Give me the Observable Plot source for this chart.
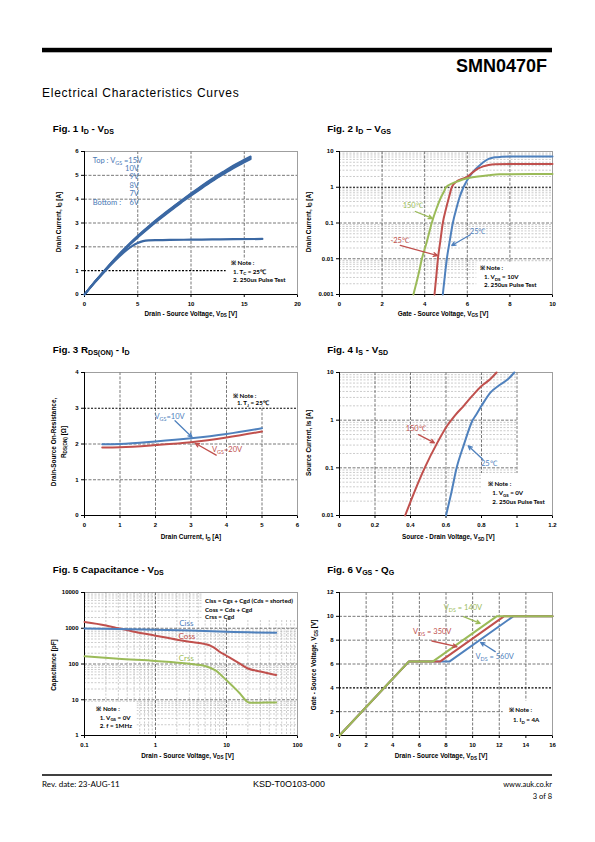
<!DOCTYPE html>
<html><head><meta charset="utf-8">
<script src="https://cdn.jsdelivr.net/npm/d3@7"></script>
<script src="https://cdn.jsdelivr.net/npm/@observablehq/plot@0.6"></script>
<style>
html,body{margin:0;padding:0;background:#fff}
#page{position:relative;width:595px;height:842px;overflow:hidden;background:#fff}
#page svg{position:absolute}
</style></head>
<body><div id="page"></div>
<script>
// ---------------- DATA ----------------
// Fig 1  I_D vs V_DS
const fig1_vds = [0,1,2,3,4,5,6,7,8,9,10,11,12,13,14,15,15.6];
const fig1_id_15V = [0,0.56,1.08,1.58,2.04,2.47,2.86,3.23,3.58,3.92,4.25,4.57,4.87,5.15,5.42,5.66,5.8];
const fig1_id_10V = [0,0.55,1.07,1.56,2.02,2.45,2.84,3.21,3.56,3.9,4.22,4.54,4.84,5.12,5.39,5.63,5.77];
const fig1_id_9V  = [0,0.55,1.06,1.55,2.01,2.43,2.82,3.19,3.54,3.87,4.2,4.51,4.81,5.09,5.36,5.6,5.74];
const fig1_id_8V  = [0,0.54,1.05,1.54,2.0,2.41,2.8,3.16,3.51,3.85,4.17,4.48,4.78,5.06,5.33,5.57,5.71];
const fig1_id_7V  = [0,0.54,1.04,1.53,1.98,2.39,2.77,3.13,3.48,3.82,4.14,4.45,4.75,5.03,5.3,5.54,5.68];
const fig1_vds_6V = [0,1,2,3,4,4.5,5,5.5,6,7,8,10,12,14,16.7];
const fig1_id_6V  = [0,0.52,1.02,1.48,1.88,2.04,2.16,2.24,2.27,2.28,2.29,2.3,2.31,2.32,2.33];
const fig1_xticks = [0,5,10,15,20];
const fig1_yticks = [0,1,2,3,4,5,6];

// Fig 2  I_D vs V_GS
const fig2_vgs_150 = [3.47,3.7,3.87,4.1,4.33,4.55,4.75,4.9,5.0,5.3,5.6,6,6.5,7,7.5,8,9,10];
const fig2_id_150  = [0.001,0.0035,0.01,0.03,0.1,0.25,0.5,0.75,1.0,1.28,1.5,1.78,2.0,2.17,2.3,2.32,2.33,2.33];
const fig2_vgs_red = [4.46,4.55,4.62,4.73,4.85,5.0,5.15,5.27,5.5,5.75,6,6.25,6.5,6.75,7,7.3,8,10];
const fig2_id_red  = [0.001,0.0035,0.01,0.03,0.1,0.25,0.55,1.0,1.45,1.72,1.95,2.6,3.3,3.85,4.2,4.4,4.45,4.45];
const fig2_vgs_blue = [4.85,4.95,5.04,5.17,5.32,5.5,5.65,5.82,6,6.25,6.5,6.75,7,7.3,7.6,8,10];
const fig2_id_blue  = [0.001,0.0035,0.01,0.03,0.1,0.27,0.55,1.0,1.6,2.6,3.7,5.0,6.2,6.9,7.1,7.2,7.2];
const fig2_xticks = [0,2,4,6,8,10];
const fig2_yticks = [0.001,0.01,0.1,1,10];
const fig2_ylabels = ["0.001","0.01","0.1","1","10"];

// Fig 3  R_DS(ON) vs I_D
const fig3_id = [0.5,1,2,3,4,5];
const fig3_r_10V = [1.99,2.0,2.07,2.16,2.28,2.44];
const fig3_r_20V = [1.9,1.91,1.97,2.05,2.18,2.35];
const fig3_xticks = [0,1,2,3,4,5,6];
const fig3_yticks = [0,1,2,3,4];

// Fig 4  I_S vs V_SD
const fig4_vsd_150 = [0.37,0.42,0.48,0.55,0.61,0.65,0.7,0.75,0.8,0.85,0.885];
const fig4_is_150  = [0.01,0.03,0.1,0.33,0.8,1.25,2.0,3.3,5.2,7.3,10];
const fig4_vsd_25  = [0.6,0.63,0.66,0.7,0.75,0.77,0.8,0.85,0.9,0.95,0.985];
const fig4_is_25   = [0.01,0.03,0.1,0.3,1.0,1.3,2.0,3.8,5.4,7.3,10];
const fig4_xticks = [0,0.2,0.4,0.6,0.8,1,1.2];
const fig4_xlabels = ["0","0.2","0.4","0.6","0.8","1","1.2"];
const fig4_yticks = [0.01,0.1,1,10];
const fig4_ylabels = ["0.01","0.1","1","10"];

// Fig 5  Capacitance vs V_DS
const fig5_v_ciss = [0.1,0.3,1,3,10,20,50];
const fig5_ciss   = [980,950,910,860,800,770,745];
const fig5_v_coss = [0.1,0.2,0.3,0.5,1,2,3,5,6,7,8,10,15,20,30,50];
const fig5_coss   = [1500,1200,1000,800,620,480,420,360,320,270,220,170,106,75,62,49];
const fig5_v_crss = [0.1,0.3,1,3,5,7,10,15,21,30,50];
const fig5_crss   = [165,140,122,102,88,66,35,16,8.2,8.3,8.4];
const fig5_xticks = [0.1,1,10,100];
const fig5_xlabels = ["0.1","1","10","100"];
const fig5_yticks = [1,10,100,1000,10000];
const fig5_ylabels = ["1","10","100","1000","10000"];

// Fig 6  V_GS vs Q_G
const fig6_q_140 = [0,5.2,7.0,11.8,16];
const fig6_q_350 = [0,5.2,7.55,12.35,16];
const fig6_q_560 = [0,5.2,8.25,13.05,16];
const fig6_vgs   = [0,6.2,6.2,10,10];
const fig6_xticks = [0,2,4,6,8,10,12,14,16];
const fig6_yticks = [0,2,4,6,8,10,12];

// ---------------- STYLES ----------------
const BLUE = "#4f81bd", RED = "#c0504d", GREEN = "#9bbb59", DBLUE = "#3b68a3";
const gridDark  = {stroke:"#555", strokeWidth:0.8, strokeDasharray:"3,1.5"};
const gridMinor = {stroke:"#aaa", strokeWidth:0.6, strokeDasharray:"2,1.5"};
const gridBlack = {stroke:"#000", strokeWidth:1.1, strokeDasharray:"2,1.5"};
const frameSt = {stroke:"#888", strokeWidth:0.8};
const axisSt = {stroke:"#000", strokeWidth:1};
const SANS = "'Liberation Sans', Arial, sans-serif";
const CAL = "Lato, 'Open Sans', sans-serif";
const NS = "http://www.w3.org/2000/svg";

const page = document.getElementById("page");
const pts = (xs, ys) => xs.map((x, i) => [x, ys[i]]);
const minorLog = (dom) => d3.scaleLog().domain(dom).ticks().filter(v => Math.abs(Math.log10(v) - Math.round(Math.log10(v))) > 1e-9);
const box = (x1, x2, y1, y2) => Plot.rect([0], {x1: () => x1, x2: () => x2, y1: () => y1, y2: () => y2, fill: "white"});
const lbl = (ticks, labels) => d => labels[ticks.findIndex(t => Math.abs(t - d) < 1e-9 * Math.max(1, Math.abs(t)))];
const plain = d => String(d);

// overlay for rich text
const ov = document.createElementNS(NS, "svg");
ov.setAttribute("width", 595); ov.setAttribute("height", 842);
ov.style.left = "0px"; ov.style.top = "0px"; ov.style.zIndex = 5;

function rich(x, y, parts, o = {}) {
  const size = o.size || 7;
  const t = document.createElementNS(NS, "text");
  t.setAttribute("x", x);
  t.setAttribute("y", y + 0.35 * size);
  t.setAttribute("font-size", size);
  t.setAttribute("font-family", o.family || SANS);
  t.setAttribute("font-weight", o.weight || "normal");
  t.setAttribute("fill", o.fill || "#000");
  t.setAttribute("text-anchor", o.anchor || "start");
  if (o.ls) t.setAttribute("letter-spacing", o.ls);
  if (o.rotate) t.setAttribute("transform", `rotate(-90 ${x} ${y})`);
  let shifted = false;
  for (const p of parts) {
    const ts = document.createElementNS(NS, "tspan");
    if (typeof p === "string") {
      ts.textContent = p;
      if (shifted) { ts.setAttribute("dy", -0.25 * size); shifted = false; }
    } else {
      ts.textContent = p.sub;
      ts.setAttribute("font-size", size * 0.72);
      if (!shifted) { ts.setAttribute("dy", 0.25 * size); shifted = true; }
    }
    t.appendChild(ts);
  }
  ov.appendChild(t);
}
function shape(tag, attrs) {
  const e = document.createElementNS(NS, tag);
  for (const k in attrs) e.setAttribute(k, attrs[k]);
  ov.appendChild(e);
}

const COL = [{left:40, ml:44, mr:5}, {left:300, ml:39, mr:10}];
const ROW = [135, 355.7, 576];
const W = 262, H = 191, MT = 16, MB = 32;

function chart(c, r, x, y, marks) {
  const svg = Plot.plot({
    width: W, height: H,
    marginLeft: COL[c].ml, marginRight: COL[c].mr, marginTop: MT, marginBottom: MB,
    style: {fontFamily: SANS, fontSize: "6px", fontWeight: "bold", background: "transparent", color: "#000", overflow: "visible"},
    x: {tickFormat: plain, ...x, label: null, tickSize: 3, tickPadding: 4},
    y: {tickFormat: plain, ...y, label: null, tickSize: 3, tickPadding: 3},
    marks
  });
  svg.style.left = COL[c].left + "px";
  svg.style.top = ROW[r] + "px";
  page.appendChild(svg);
  const mk = (s) => { const sc = s.type === "log" ? d3.scaleLog() : d3.scaleLinear(); return sc.domain(s.domain).range(s.range); };
  const sx = mk(svg.scale("x")), sy = mk(svg.scale("y"));
  return (xv, yv) => [COL[c].left + sx(xv), ROW[r] + sy(yv)];
}
const arrow = (x1, y1, x2, y2, col) => Plot.arrow([0], {x1: () => x1, y1: () => y1, x2: () => x2, y2: () => y2, stroke: col, strokeWidth: 1.3, headLength: 5, headAngle: 50});
const line = (xs, ys, col, w = 2) => Plot.line(pts(xs, ys), {x: d => d[0], y: d => d[1], stroke: col, strokeWidth: w, curve: "monotone-x"});
const note = (p, rows, xv, yv) => rows.forEach((parts, i) => { const [px, py] = p(xv[i], yv[i]); rich(px, py, parts, {size: 6.2, family: CAL, weight: "bold"}); });

// ---------------- FIG 1 ----------------
const p1 = chart(0, 0,
  {domain: [0, 20], ticks: fig1_xticks},
  {domain: [0, 6], ticks: fig1_yticks},
  [
    Plot.ruleX([5, 10, 15], gridDark),
    Plot.ruleY([2, 3, 4, 5], gridDark),
    Plot.ruleY([1], gridBlack),
    box(13.3, 20, 0, 1.45),
    Plot.frame(frameSt),
    Plot.ruleX([0], axisSt), Plot.ruleY([0], axisSt),
    line(fig1_vds_6V, fig1_id_6V, DBLUE, 2.2),
    line(fig1_vds, fig1_id_7V, DBLUE, 1.7),
    line(fig1_vds, fig1_id_8V, DBLUE, 1.7),
    line(fig1_vds, fig1_id_9V, DBLUE, 1.7),
    line(fig1_vds, fig1_id_10V, DBLUE, 1.7),
    line(fig1_vds, fig1_id_15V, DBLUE, 1.7)
  ]);
{
  const o = {size: 7.5, family: CAL, fill: "#4a78b5"};
  let [x, y] = p1(0.82, 5.59); rich(x, y, ["Top : V", {sub: "GS"}, " =15V"], o);
  [["10V", 5.27], ["9V", 4.92], ["8V", 4.57], ["7V", 4.22], ["6V", 3.84]].forEach(([s, v]) => { const [a, b] = p1(5.15, v); rich(a, b, [s], {...o, anchor: "end"}); });
  [x, y] = p1(0.82, 3.84); rich(x, y, ["Bottom :"], o);
  note(p1, [["※ Note :"], ["1. T", {sub: "C"}, " = 25℃"], ["2. 250us Pulse Test"]], [13.8, 14.0, 14.0], [1.30, 0.94, 0.59]);
}

// ---------------- FIG 2 ----------------
const p2 = chart(1, 0,
  {domain: [0, 10], ticks: fig2_xticks},
  {type: "log", domain: [0.001, 10], ticks: fig2_yticks, tickFormat: lbl(fig2_yticks, fig2_ylabels)},
  [
    Plot.ruleY(minorLog([0.001, 10]), gridMinor),
    Plot.ruleX([2, 4, 6, 8], gridDark),
    Plot.ruleY([0.01, 0.1], gridDark),
    Plot.ruleY([1], gridBlack),
    box(6.45, 10, 0.001, 0.008),
    Plot.frame(frameSt),
    Plot.ruleX([0], axisSt), Plot.ruleY([0.001], axisSt),
    line(fig2_vgs_blue, fig2_id_blue, BLUE),
    line(fig2_vgs_red, fig2_id_red, RED),
    line(fig2_vgs_150, fig2_id_150, GREEN),
    arrow(3.56, 0.21, 4.36, 0.134, GREEN),
    arrow(2.85, 0.0235, 4.6, 0.0123, RED),
    arrow(6.14, 0.0468, 5.27, 0.0235, BLUE)
  ]);
{
  let [x, y] = p2(3.46, 0.31); rich(x, y, ["150℃"], {size: 7.5, family: CAL, fill: GREEN, anchor: "middle"});
  [x, y] = p2(2.85, 0.032); rich(x, y, ["-25℃"], {size: 7.5, family: CAL, fill: RED, anchor: "middle"});
  [x, y] = p2(6.51, 0.0578); rich(x, y, ["25℃"], {size: 7.5, family: CAL, fill: BLUE, anchor: "middle"});
  note(p2, [["※ Note :"], ["1. V", {sub: "DS"}, " = 10V"], ["2. 250us Pulse Test"]], [6.61, 6.81, 6.81], [0.00523, 0.00293, 0.00175]);
}

// ---------------- FIG 3 ----------------
const p3 = chart(0, 1,
  {domain: [0, 6], ticks: fig3_xticks},
  {domain: [0, 4], ticks: fig3_yticks},
  [
    Plot.ruleX([1, 2, 3, 4, 5], gridDark),
    Plot.ruleY([1, 2], gridDark),
    Plot.ruleY([3], gridBlack),
    box(4.1, 6, 3.06, 4),
    Plot.frame(frameSt),
    Plot.ruleX([0], axisSt), Plot.ruleY([0], axisSt),
    line(fig3_id, fig3_r_20V, RED),
    line(fig3_id, fig3_r_10V, BLUE),
    arrow(2.55, 2.65, 3.03, 2.19, BLUE),
    arrow(3.71, 1.69, 3.12, 2.02, RED)
  ]);
{
  let [x, y] = p3(2.41, 2.74); rich(x, y, ["V", {sub: "GS"}, "=10V"], {size: 7.5, family: CAL, fill: BLUE, anchor: "middle"});
  [x, y] = p3(4.03, 1.83); rich(x, y, ["V", {sub: "GS"}, "=20V"], {size: 7.5, family: CAL, fill: RED, anchor: "middle"});
  note(p3, [["※ Note :"], ["1. T", {sub: "J"}, " = 25℃"]], [4.2, 4.31], [3.33, 3.12]);
}

// ---------------- FIG 4 ----------------
const p4 = chart(1, 1,
  {domain: [0, 1.2], ticks: fig4_xticks, tickFormat: lbl(fig4_xticks, fig4_xlabels)},
  {type: "log", domain: [0.01, 10], ticks: fig4_yticks, tickFormat: lbl(fig4_yticks, fig4_ylabels)},
  [
    Plot.ruleY(minorLog([0.01, 10]), {...gridMinor, x1: () => 0, x2: () => 1}),
    Plot.ruleX([0.2, 0.4, 0.6, 0.8, 1], gridDark),
    Plot.ruleY([0.1, 1], {...gridDark, x1: () => 0, x2: () => 1}),
    box(0.8, 1.2, 0.01, 0.076),
    Plot.frame(frameSt),
    Plot.ruleX([0], axisSt), Plot.ruleY([0.01], axisSt),
    line(fig4_vsd_150, fig4_is_150, RED),
    line(fig4_vsd_25, fig4_is_25, BLUE),
    arrow(0.445, 0.497, 0.535, 0.335, RED),
    arrow(0.808, 0.149, 0.725, 0.29, BLUE)
  ]);
{
  let [x, y] = p4(0.432, 0.653); rich(x, y, ["150℃"], {size: 7.5, family: CAL, fill: RED, anchor: "middle"});
  [x, y] = p4(0.844, 0.121); rich(x, y, ["25℃"], {size: 7.5, family: CAL, fill: BLUE, anchor: "middle"});
  note(p4, [["※ Note :"], ["1. V", {sub: "GS"}, " = 0V"], ["2. 250us Pulse Test"]], [0.839, 0.864, 0.864], [0.0446, 0.0284, 0.0185]);
}

// ---------------- FIG 5 ----------------
const p5 = chart(0, 2,
  {type: "log", domain: [0.1, 100], ticks: fig5_xticks, tickFormat: lbl(fig5_xticks, fig5_xlabels)},
  {type: "log", domain: [1, 10000], ticks: fig5_yticks, tickFormat: lbl(fig5_yticks, fig5_ylabels)},
  [
    Plot.ruleX(minorLog([0.1, 100]), gridMinor),
    Plot.ruleY(minorLog([1, 10000]), gridMinor),
    Plot.ruleX([1, 10], gridDark),
    Plot.ruleY([10, 100, 1000], gridDark),
    box(4.6, 100, 1700, 10000),
    box(0.1, 0.55, 1, 8.5),
    Plot.frame(frameSt),
    Plot.ruleX([0.1], axisSt), Plot.ruleY([1], axisSt),
    line(fig5_v_crss, fig5_crss, GREEN),
    line(fig5_v_coss, fig5_coss, RED),
    line(fig5_v_ciss, fig5_ciss, BLUE)
  ]);
{
  let [x, y] = p5(2.76, 1365); rich(x, y, ["Ciss"], {size: 8, family: CAL, fill: BLUE, anchor: "middle"});
  [x, y] = p5(2.82, 591); rich(x, y, ["Coss"], {size: 8, family: CAL, fill: RED, anchor: "middle"});
  [x, y] = p5(2.76, 138); rich(x, y, ["Crss"], {size: 8, family: CAL, fill: GREEN, anchor: "middle"});
  note(p5, [["Ciss = Cgs + Cgd (Cds = shorted)"], ["Coss = Cds + Cgd"], ["Crss = Cgd"]], [5.07, 5.07, 5.07], [5495, 3228, 1968]);
  note(p5, [["※ Note :"], ["1. V", {sub: "GS"}, " = 0V"], ["2. f = 1MHz"]], [0.1496, 0.1667, 0.1667], [5.32, 3.04, 1.79]);
}

// ---------------- FIG 6 ----------------
const p6 = chart(1, 2,
  {domain: [0, 16], ticks: fig6_xticks},
  {domain: [0, 12], ticks: fig6_yticks},
  [
    Plot.ruleX([2, 4, 6, 8, 10, 12, 14], gridDark),
    Plot.ruleY([2, 6, 8, 10], gridDark),
    Plot.ruleY([4], gridBlack),
    box(12.3, 16, 0, 2.9),
    Plot.frame(frameSt),
    Plot.ruleX([0], axisSt), Plot.ruleY([0], axisSt),
    Plot.line(pts(fig6_q_560, fig6_vgs), {x: d => d[0], y: d => d[1], stroke: BLUE, strokeWidth: 2}),
    Plot.line(pts(fig6_q_350, fig6_vgs), {x: d => d[0], y: d => d[1], stroke: RED, strokeWidth: 2}),
    Plot.line(pts(fig6_q_140, fig6_vgs), {x: d => d[0], y: d => d[1], stroke: GREEN, strokeWidth: 2}),
    arrow(9.32, 9.97, 10.57, 9.41, GREEN),
    arrow(6.94, 7.93, 8.82, 7.45, RED),
    arrow(11.7, 7.04, 10.6, 7.82, BLUE)
  ]);
{
  let [x, y] = p6(7.87, 10.72); rich(x, y, ["V", {sub: "DS"}, " =  140V"], {size: 7.5, family: CAL, fill: GREEN});
  [x, y] = p6(5.56, 8.66); rich(x, y, ["V", {sub: "DS"}, " =  350V"], {size: 7.5, family: CAL, fill: RED});
  [x, y] = p6(10.25, 6.57); rich(x, y, ["V", {sub: "DS"}, " =  560V"], {size: 7.5, family: CAL, fill: BLUE});
  note(p6, [["※ Note :"], ["1. I", {sub: "D"}, " = 4A"]], [12.75, 13.07], [2.09, 1.26]);
}

// ---------------- TITLES & AXIS LABELS ----------------
const tf = {size: 9.8, weight: "bold"};
rich(52.7, 128.3, ["Fig. 1 I", {sub: "D"}, " - V", {sub: "DS"}], tf);
rich(327.3, 128.3, ["Fig. 2 I", {sub: "D"}, " – V", {sub: "GS"}], tf);
rich(52.7, 349.3, ["Fig. 3 R", {sub: "DS(ON)"}, " - I", {sub: "D"}], tf);
rich(327.3, 349.3, ["Fig. 4 I", {sub: "S"}, " - V", {sub: "SD"}], tf);
rich(52.7, 569.3, ["Fig. 5 Capacitance - V", {sub: "DS"}], tf);
rich(327.3, 569.3, ["Fig. 6 V", {sub: "GS"}, " - Q", {sub: "G"}], tf);

const af = {size: 6.4, weight: "bold", anchor: "middle"};
rich(190.8, 313.3, ["Drain - Source Voltage, V", {sub: "DS"}, " [V]"], af);
rich(58.3, 222, ["Drain Current, I", {sub: "D"}, " [A]"], {...af, rotate: true});
rich(443, 313.3, ["Gate - Source Voltage, V", {sub: "GS"}, " [V]"], af);
rich(308.3, 222, ["Drain Current, I", {sub: "D"}, " [A]"], {...af, rotate: true});
rich(191, 536.7, ["Drain Current, I", {sub: "D"}, " [A]"], af);
rich(54, 442, ["Drain-Source On-Resistance,"], {...af, rotate: true});
rich(63.3, 442, ["R", {sub: "DS(ON)"}, " [Ω]"], {...af, rotate: true});
rich(448.3, 536.7, ["Source - Drain Voltage, V", {sub: "SD"}, " [V]"], af);
rich(308.3, 443, ["Source Current, Is [A]"], {...af, rotate: true});
rich(187.5, 755.3, ["Drain - Source Voltage, V", {sub: "DS"}, " [V]"], af);
rich(54, 665, ["Capacitance  [pF]"], {...af, rotate: true});
rich(441, 756, ["Drain - Source Voltage, V", {sub: "DS"}, " [V]"], af);
rich(314, 665, ["Gate - Source Voltage, V", {sub: "GS"}, " [V]"], {...af, rotate: true});
</script>
<script>
// ---------------- HEADER / FOOTER ----------------
(function(){
  shape("rect", {x: 42, y: 47.8, width: 510, height: 4.5, fill: "#000"});
  rich(547, 65.5, ["SMN0470F"], {size: 18, weight: "bold", anchor: "end"});
  rich(42, 92.5, ["Electrical Characteristics Curves"], {size: 12, ls: 0.75});
  shape("line", {x1: 42, x2: 552, y1: 775, y2: 775, stroke: "#000", "stroke-width": 1.6});
  rich(42, 784.5, ["Rev. date: 23-AUG-11"], {size: 8, family: CAL});
  rich(289, 783.5, ["KSD-T0O103-000"], {size: 9, anchor: "middle"});
  rich(552, 784.5, ["www.auk.co.kr"], {size: 7.5, family: CAL, anchor: "end"});
  rich(552, 796, ["3 of 8"], {size: 7.5, family: CAL, anchor: "end"});
  page.appendChild(ov);
})();
</script>
</body></html>
